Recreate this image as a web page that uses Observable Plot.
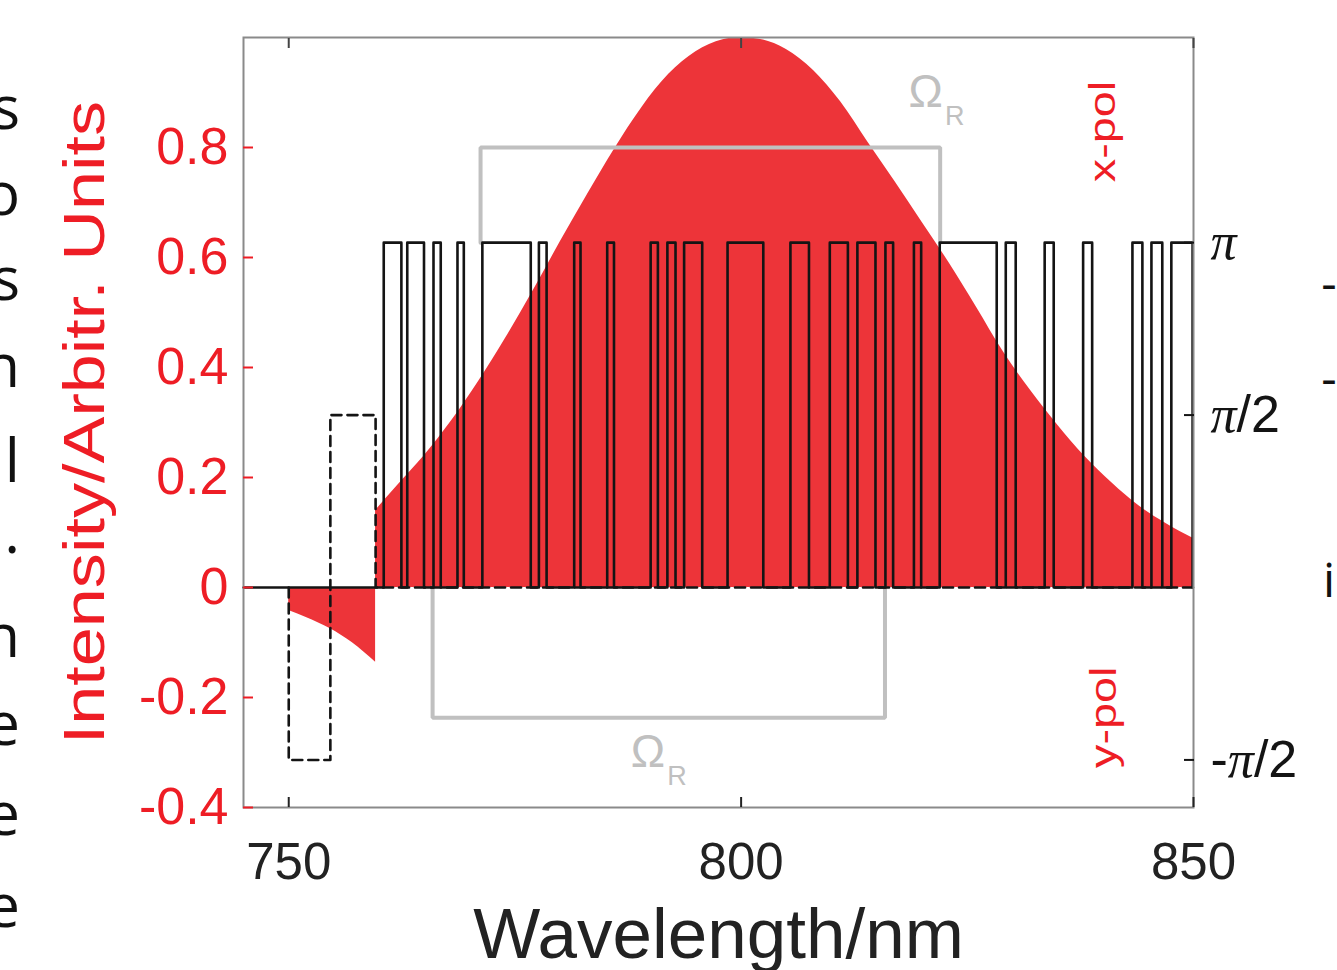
<!DOCTYPE html>
<html>
<head>
<meta charset="utf-8">
<script src="https://cdn.jsdelivr.net/npm/d3@7"></script>
<script src="https://cdn.jsdelivr.net/npm/@observablehq/plot@0.6"></script>
<style>
  html, body { margin: 0; padding: 0; background: #fff; overflow: hidden; }
  #chart { position: relative; width: 1337px; height: 970px; }
</style>
</head>
<body>
<div id="chart"></div>
<script>
// ---------------- data ----------------
// x-polarised spectral intensity (red, positive)
const xPolLambda = [759.6, 762, 765, 768, 771, 774, 777, 780, 783, 786, 789, 792, 795, 798, 800,
                    802, 805, 808, 811, 814, 817, 820, 823, 826, 829, 832, 835, 838, 841, 844, 847, 850];
const xPolIntensity = [0.14, 0.185, 0.24, 0.303, 0.375, 0.454, 0.539, 0.628, 0.714, 0.797, 0.872, 0.933, 0.974, 0.996, 1.0,
                       0.997, 0.978, 0.94, 0.883, 0.81, 0.738, 0.664, 0.59, 0.51, 0.428, 0.358, 0.295, 0.238, 0.19, 0.148, 0.116, 0.089];
// y-polarised spectral intensity (red, negative)
const yPolLambda = [750, 752, 754.6, 757, 759.6];
const yPolIntensity = [-0.042, -0.055, -0.075, -0.1, -0.136];

// x-pol binary spectral phase (solid black), edges in nm, level in units of pi
const xPhaseLambda = [745, 760.5, 762.45, 763.1, 764.95, 766.0, 766.8, 768.65, 769.35, 771.4, 776.75, 777.65, 778.5,
                      781.55, 782.25, 785.2, 785.95, 790.0, 790.8, 791.85, 792.75, 793.7, 795.7, 798.5, 802.45,
                      805.45, 807.5, 809.8, 811.8, 812.85, 814.85, 815.95, 816.8, 819.1, 819.9, 821.95, 828.25,
                      829.25, 830.35, 833.55, 834.55, 837.8, 838.8, 843.25, 844.35, 845.35, 846.55, 847.55, 849.9];
const xPhaseLevel = [0, 1, 0, 1, 0, 1, 0, 1, 0, 1, 0, 1, 0,
                     1, 0, 1, 0, 1, 0, 1, 0, 1, 0, 1, 0,
                     1, 0, 1, 0, 1, 0, 1, 0, 1, 0, 1, 0,
                     1, 0, 1, 0, 1, 0, 1, 0, 1, 0, 1, 0];
// y-pol spectral phase (dashed black)
const yPhaseLambda = [750, 750, 754.6, 759.6, 850];
const yPhaseLevel = [0, -0.5, 0.5, 0, 0];

// Omega_R brackets (grey)
const omegaUpperLambda = [771.2, 822.0];
const omegaUpperTop = 0.8;
const omegaLowerLambda = [765.9, 815.9];
const omegaLowerBottom = -0.237;

// axes
const xTicks = [750, 800, 850];
const xTickLabels = ["750", "800", "850"];
const leftTicks = [-0.4, -0.2, 0, 0.2, 0.4, 0.6, 0.8];
const leftTickLabels = ["-0.4", "-0.2", "0", "0.2", "0.4", "0.6", "0.8"];
const rightTicksPi = [1, 0.5, -0.5];
const rightTickLabels = ["π", "π/2", "-π/2"];
const PI_LEVEL = 0.627; // intensity-axis height that corresponds to a phase of pi

const xTitle = "Wavelength/nm";
const yTitle = "Intensity/Arbitr. Units";
const polLabels = ["x-pol", "y-pol"];
const omegaLabel = "Ω";
const omegaSub = "R";

// cropped text fragments at the page edges
const leftFragments = ["s", "o", "s", "n", "l", ".", "n", "e", "e", "e"];
const rightFragments = ["-", "-", "i"];

// ---------------- build tables ----------------
const RED = "#ed3439";
const RED_TEXT = "#ee1d25";
const GRAY = "#c0c0c0";
const BLACK = "#141414";

const xPol = xPolLambda.map((l, i) => ({l, v: xPolIntensity[i]}));
const yPol = yPolLambda.map((l, i) => ({l, v: yPolIntensity[i]}));
const xPhase = xPhaseLambda.map((l, i) => ({l, v: xPhaseLevel[i] * PI_LEVEL}));
const yPhase = yPhaseLambda.map((l, i) => ({l, v: yPhaseLevel[i] * PI_LEVEL}));
const upperBox = [
  {l: omegaUpperLambda[0], v: PI_LEVEL}, {l: omegaUpperLambda[0], v: omegaUpperTop},
  {l: omegaUpperLambda[1], v: omegaUpperTop}, {l: omegaUpperLambda[1], v: PI_LEVEL}
];
const lowerBox = [
  {l: omegaLowerLambda[0], v: 0}, {l: omegaLowerLambda[0], v: omegaLowerBottom},
  {l: omegaLowerLambda[1], v: omegaLowerBottom}, {l: omegaLowerLambda[1], v: 0}
];
const omegaPos = [{l: 820.4, v: 0.9}, {l: 789.7, v: -0.3}];
const polPos = [{l: 840.05, v: 0.829, t: polLabels[0]}, {l: 840.2, v: -0.236, t: polLabels[1]}];

const leftMap = new Map(leftTicks.map((t, i) => [t, leftTickLabels[i]]));
const xMap = new Map(xTicks.map((t, i) => [t, xTickLabels[i]]));
const rightVals = rightTicksPi.map(p => p * PI_LEVEL);
const rightMap = new Map(rightVals.map((t, i) => [t, rightTickLabels[i]]));

const FONT = "'Liberation Sans', Arial, Helvetica, sans-serif";

const svg = Plot.plot({
  width: 1337,
  height: 970,
  marginLeft: 243,
  marginRight: 144,
  marginTop: 37,
  marginBottom: 163,
  x: {domain: [745, 850]},
  y: {domain: [-0.4, 1.0]},
  style: {fontFamily: FONT, background: "white", overflow: "visible"},
  marks: [
    Plot.areaY(xPol, {x: "l", y: "v", fill: RED, curve: "monotone-x", clip: true}),
    Plot.areaY(yPol, {x: "l", y: "v", fill: RED, curve: "monotone-x"}),
    Plot.line(upperBox, {x: "l", y: "v", stroke: GRAY, strokeWidth: 4, strokeLinejoin: "miter"}),
    Plot.line(lowerBox, {x: "l", y: "v", stroke: GRAY, strokeWidth: 4, strokeLinejoin: "miter"}),
    Plot.line(yPhase, {x: "l", y: "v", curve: "step-after", stroke: BLACK, strokeWidth: 2.6, strokeDasharray: "10,6"}),
    Plot.line(xPhase, {x: "l", y: "v", curve: "step-after", stroke: BLACK, strokeWidth: 2.6}),
    Plot.frame({stroke: "#8a8a8a", strokeWidth: 2}),
    Plot.axisY({anchor: "left", ticks: leftTicks, tickFormat: d => leftMap.get(d), tickSize: -10, tickPadding: 25,
                fontSize: 52, color: RED_TEXT, line: true, strokeWidth: 2, label: null}),
    Plot.axisY({anchor: "right", ticks: rightVals, tickFormat: d => rightMap.get(d), tickSize: -10, tickPadding: 27,
                fontSize: 52, color: BLACK, strokeWidth: 2, label: null}),
    Plot.axisX({anchor: "bottom", ticks: xTicks, tickFormat: d => xMap.get(d), tickSize: -10, tickPadding: 45,
                fontSize: 51, color: "#222", strokeWidth: 2, label: null}),
    Plot.axisX({anchor: "top", ticks: xTicks, tickFormat: () => "", tickSize: -10, color: "#444", strokeWidth: 2, label: null}),
    Plot.text(omegaPos, {x: "l", y: "v", text: () => omegaLabel, fontSize: 46, fill: GRAY}),
    Plot.text(omegaPos, {x: "l", y: "v", text: () => omegaSub, dx: 29, dy: 24, fontSize: 27, fill: GRAY}),
    Plot.text(polPos, {x: "l", y: "v", text: "t", rotate: -90, fontSize: 36, fill: RED_TEXT, textAnchor: "middle"}),
    Plot.text([yTitle], {frameAnchor: "left", text: d => d, dx: -158, rotate: -90, fontSize: 58, fill: RED_TEXT, textAnchor: "middle"}),
    Plot.text([xTitle], {frameAnchor: "bottom", text: d => d, dy: 150, fontSize: 71, fill: "#222", textAnchor: "middle"})
  ]
});

const s = d3.select(svg);
// stretch rotated labels along their length, as in the figure
function stretchText(content, k) {
  s.selectAll("text").filter(function () { return this.textContent === content; }).each(function () {
    const cur = this.getAttribute("transform") || "";
    if (cur.includes("rotate")) {
      this.setAttribute("transform", cur + ` scale(${k},1)`);
    } else {
      const fs = parseFloat(this.getAttribute("font-size") || getComputedStyle(this).fontSize);
      this.setAttribute("font-size", fs * k);
    }
  });
}
stretchText(yTitle, 1.21);
polLabels.forEach(p => stretchText(p, 1.3));
// italic serif pi in phase labels
s.selectAll("text").filter(function () { return this.textContent.includes("π"); }).each(function () {
  const str = this.textContent;
  const el = d3.select(this);
  el.text("");
  for (const part of str.split(/(π)/)) {
    if (!part) continue;
    const t = el.append("tspan").text(part);
    if (part === "π") t.attr("font-family", "'Liberation Serif', 'DejaVu Serif', serif").attr("font-style", "italic");
  }
});

// cropped neighbouring-page text at the edges
const leftBaselines = [129, 215, 300, 387, 482, 553, 657, 745, 835, 927];
const gl = s.append("g").attr("font-family", "'Open Sans', 'Noto Sans', sans-serif").attr("font-size", 60).attr("fill", "#111");
leftFragments.forEach((c, i) => gl.append("text").attr("x", 20).attr("y", leftBaselines[i]).attr("text-anchor", "end").text(c));
const rightBaselines = [300, 395, 597];
const gr = s.append("g").attr("font-family", "'Open Sans', 'Noto Sans', sans-serif").attr("font-size", 48).attr("fill", "#111");
rightFragments.forEach((c, i) => gr.append("text").attr("x", 1329).attr("y", rightBaselines[i]).text(c));

document.getElementById("chart").appendChild(svg);
</script>
</body>
</html>
